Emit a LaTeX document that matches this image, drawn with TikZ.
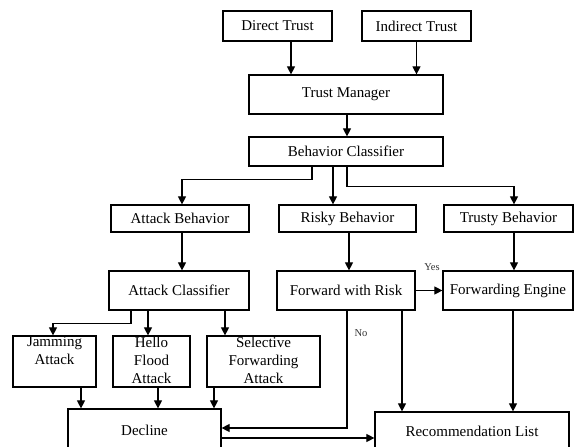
\documentclass[tikz,border=0pt]{standalone}
\usepackage{fontspec}
\setmainfont{Liberation Serif}
\usetikzlibrary{arrows.meta}
\begin{document}
\begin{tikzpicture}[x=1pt,y=-1pt,
  box/.style={draw, line width=1.2pt, inner sep=0pt, font=\fontsize{15}{18}\selectfont},
  lbl/.style={inner sep=0pt, anchor=north, align=center, font=\fontsize{15}{18}\selectfont},
  small/.style={inner sep=0pt, text=black!80, font=\fontsize{10.5}{12}\selectfont},
  arr/.style={line width=1.1pt, -{Triangle[length=8pt,width=8pt]}},
  ln/.style={line width=1.1pt}]
\useasboundingbox (0,0) rectangle (574,447);
\clip (0,0) rectangle (574,447);
% boxes
\node[box, minimum width=109pt, minimum height=30pt] (dt) at (277.5,26) {Direct Trust};
\node[box, minimum width=109pt, minimum height=30pt] (it) at (416.5,26) {Indirect Trust};
\node[box, minimum width=194pt, minimum height=39pt] (tm) at (346,94.5) {Trust Manager};
\node[box, minimum width=194pt, minimum height=29pt] (bc) at (346,151.5) {Behavior Classifier};
\node[box, minimum width=138pt, minimum height=27pt] (ab) at (180,218.5) {Attack Behavior};
\node[box, minimum width=137pt, minimum height=27pt] (rb) at (347.5,218.5) {Risky Behavior};
\node[box, minimum width=129pt, minimum height=27pt] (tb) at (508.5,218.5) {Trusty Behavior};
\node[box, minimum width=140pt, minimum height=39pt] (ac) at (179,290.5) {Attack Classifier};
\node[box, minimum width=138pt, minimum height=39pt] (fr) at (346,290.5) {Forward with Risk};
\node[box, minimum width=130pt, minimum height=39pt] (fe) at (508,290.5) {Forwarding Engine};
\node[box, minimum width=83pt, minimum height=51pt] (jam) at (54.5,361.5) {};
\node[box, minimum width=77pt, minimum height=51pt] (hel) at (151.5,361.5) {};
\node[box, minimum width=113pt, minimum height=51pt] (sel) at (263.5,361.5) {};
\node[lbl] (jamt) at ([yshift=-1pt]jam.north) {Jamming\\Attack};
\node[lbl] (helt) at ([yshift=-1pt]hel.north) {Hello\\Flood\\Attack};
\node[lbl] (selt) at ([yshift=-1pt]sel.north) {Selective\\Forwarding\\Attack};
\node[box, minimum width=153pt, minimum height=42pt] (dec) at (144.5,430) {Decline};
\node[box, minimum width=194pt, minimum height=38pt] (rec) at (472,431) {Recommendation List};
% labels
\node[small] (yes) at (432,267) {Yes};
\node[small] (no) at (361,333) {No};
% connectors
\draw[arr] (dt.south -| 291,0) -- (tm.north -| 291,0);
\draw[arr] (it.south) -- (it.south |- tm.north);
\draw[arr] (tm.south -| 347,0) -- (bc.north -| 347,0);
\draw[arr] (bc.south -| 312,0) -- ++(0,13) -| (ab.north -| 182,0);
\draw[arr] (bc.south -| 333,0) -- (rb.north -| 333,0);
\draw[arr] (bc.south -| 347,0) -- ++(0,20) -| (tb.north -| 514,0);
\draw[arr] (ab.south -| 182,0) -- (ac.north -| 182,0);
\draw[arr] (rb.south -| 349,0) -- (fr.north -| 349,0);
\draw[arr] (tb.south -| 514,0) -- (fe.north -| 514,0);
\draw[arr] (fr.east) -- (fe.west);
\draw[arr] (ac.south -| 131,0) -- ++(0,13) -| (jam.north -| 53,0);
\draw[arr] (ac.south -| 148,0) -- (hel.north -| 148,0);
\draw[arr] (ac.south -| 225,0) -- (sel.north -| 225,0);
\draw[arr] (jam.south -| 81,0) -- (dec.north -| 81,0);
\draw[arr] (hel.south -| 158,0) -- (dec.north -| 158,0);
\draw[arr] (sel.south -| 214,0) -- (dec.north -| 214,0);
\draw[arr] (fr.south -| 347,0) |- (dec.east |- 0,428);
\draw[arr] (fr.south -| 402,0) -- (rec.north -| 402,0);
\draw[arr] (fe.south -| 513,0) -- (rec.north -| 513,0);
\draw[arr] (dec.east |- 0,438) -- (rec.west |- 0,438);
\end{tikzpicture}
\end{document}
